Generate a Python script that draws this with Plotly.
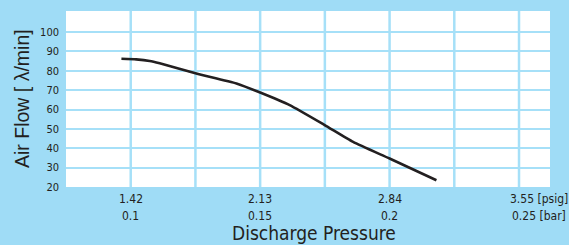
import plotly.graph_objects as go

# Data
pressure_psig = [1.369, 1.45, 1.524, 1.579, 1.78, 2.00, 2.13, 2.292, 2.484, 2.640, 2.84, 3.097]
air_flow = [86.2, 85.9, 85.1, 83.9, 78.6, 73.5, 68.8, 62.3, 52.0, 43.3, 34.7, 23.5]

x_tick_vals = [1.42, 2.13, 2.84, 3.55]
x_tick_psig = ["1.42", "2.13", "2.84", "3.55 [psig]"]
x_tick_bar = ["0.1", "0.15", "0.2", "0.25 [bar]"]
y_tick_vals = [20, 30, 40, 50, 60, 70, 80, 90, 100]

BG = "#9fdcf6"
GRID = "#a6e0f8"
TXT = "#231f20"
NARROW = "Liberation Sans Narrow, DejaVu Sans Condensed, Arial Narrow, sans-serif"
REG = "Liberation Sans, Arial, Helvetica, sans-serif"

fig = go.Figure()

vgrid = [1.42 + 0.355 * k for k in range(7)]

fig.add_trace(go.Scatter(
    x=pressure_psig, y=air_flow, mode="lines",
    line=dict(color="#231f20", width=2.6, shape="spline", smoothing=0.5),
    hoverinfo="skip", showlegend=False,
))

for v in vgrid:
    fig.add_vline(x=v, line=dict(color=GRID, width=2.5), layer="below")

fig.update_layout(
    width=569, height=245,
    margin=dict(l=66, r=19, t=11, b=58),
    paper_bgcolor=BG, plot_bgcolor="white",
    font=dict(family=NARROW, size=12, color=TXT),
    xaxis=dict(range=[1.065, 3.72], showgrid=False, zeroline=False, showline=False,
               showticklabels=False, ticks="", fixedrange=True),
    yaxis=dict(range=[20, 110.9], tickvals=y_tick_vals, showgrid=True,
               gridcolor=GRID, gridwidth=1.5, zeroline=False, showline=False,
               ticks="", ticklabelstandoff=6,
               tickfont=dict(family=NARROW, size=11, color=TXT), fixedrange=True),
)

# two-row x tick labels (psig over bar)
for i, (v, p, b) in enumerate(zip(x_tick_vals, x_tick_psig, x_tick_bar)):
    shift = 20 if i == len(x_tick_vals) - 1 else 0
    fig.add_annotation(x=v, y=0, xref="x", yref="paper", text=p, showarrow=False,
                       xanchor="center", yanchor="middle", yshift=-12, xshift=shift,
                       font=dict(family=NARROW, size=12, color=TXT))
    fig.add_annotation(x=v, y=0, xref="x", yref="paper", text=b, showarrow=False,
                       xanchor="center", yanchor="middle", yshift=-29, xshift=shift,
                       font=dict(family=NARROW, size=12, color=TXT))

fig.add_annotation(x=-0.0909, y=0.5, xref="paper", yref="paper", text="Air Flow [ λ/min]",
                   textangle=-90, showarrow=False, xanchor="center", yanchor="middle",
                   font=dict(family=REG, size=19.5, color=TXT))
fig.add_annotation(x=0.512, y=0, xref="paper", yref="paper", text="Discharge Pressure",
                   showarrow=False, xanchor="center", yanchor="middle", yshift=-46,
                   font=dict(family=NARROW, size=19, color=TXT))

fig.write_html("out.html", config={"displayModeBar": False},
               post_script="document.body.style.margin='0';")
